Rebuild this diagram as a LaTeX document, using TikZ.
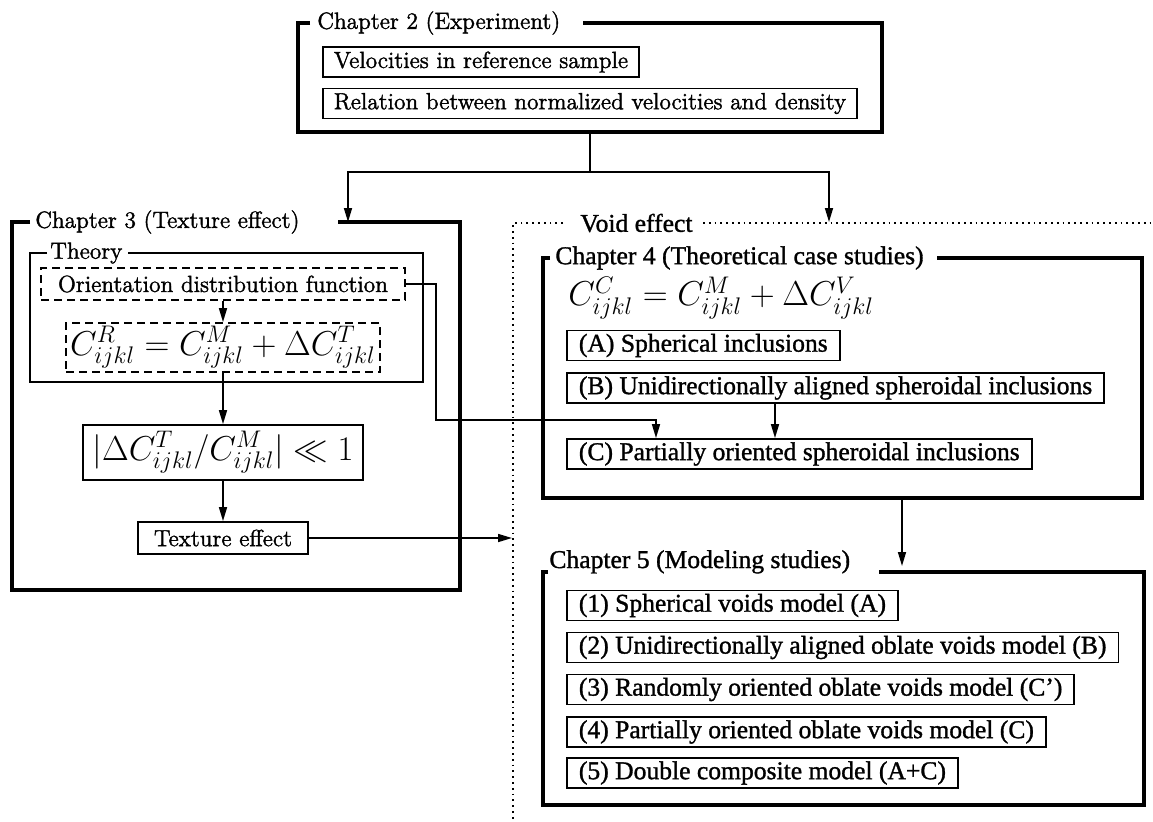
\documentclass[tikz,border=0pt]{standalone}
\usepackage{fontspec}
\newfontfamily\lmheavy{Latin Modern Roman}[FakeBold=1.6]
\newfontfamily\timesfont{Liberation Serif}[FakeBold=1.2]
\usetikzlibrary{arrows.meta,calc}

\tikzset{
  chframe/.style={line width=1.6pt},
  thinframe/.style={line width=0.9pt},
  voidframe/.style={line width=0.9pt, dotted},
  lmfont/.style={font=\lmheavy\fontsize{11.7}{14}\selectfont},
  tmfont/.style={font=\timesfont\fontsize{12.8}{15}\selectfont},
  eqfont/.style={font=\fontsize{16.5}{20}\selectfont},
  lmbox/.style={draw, line width=0.9pt, inner xsep=5.5pt, inner ysep=0pt, minimum height=15pt, anchor=west, lmfont},
  tmbox/.style={draw, line width=0.9pt, inner xsep=6pt, inner ysep=0pt, minimum height=15pt, anchor=west, tmfont},
  ch3box/.style={draw, line width=0.9pt, inner sep=0pt, lmfont},
  dashbox/.style={ch3box, dash pattern=on 4pt off 2.5pt},
  lmtitle/.style={anchor=west, inner sep=0pt, lmfont},
  tmtitle/.style={anchor=west, inner sep=0pt, tmfont},
  link/.style={line width=0.8pt},
  arrow/.style={link, -{Triangle[length=7pt,width=4pt]}},
}

\begin{document}
\begin{tikzpicture}[x=0.5pt,y=-0.5pt]
	%%%%% START %%%%%
	\useasboundingbox (0,0) rectangle (1153,821);
	
	% chapter 2
	\draw[chframe] (310,23) -| (298,132) -| (882,23) -- (583,23);
	\node[lmtitle] (ch2title) at (317,23) {Chapter 2 (Experiment)};
	\node[lmbox] (velo) at (322,62) {Velocities in reference sample};
	\node[lmbox] (relation) at (322,103.5) {Relation between normalized velocities and density};
	
	\coordinate (ch2out) at (590,132);
	\coordinate (split) at (590,172);
	\coordinate (ch3in) at (348,222);
	\coordinate (voidin) at (829,222);
	\draw[link] (ch2out) -- (split);
	\draw[arrow] (split) -| (ch3in);
	\draw[arrow] (split) -| (voidin);
	
	% chapter 3
	\draw[chframe] (30,222) -| (12,590) -| (460,222) -- (338,222);
	\node[lmtitle] (ch3title) at (35,222) {Chapter 3 (Texture effect)};
	\draw[thinframe] (47,253) -| (30,382) -| (423,253) -- (128,253);
	\node[lmtitle] (theory) at (50,253) {Theory};
	
	\node[dashbox, minimum width=182pt, minimum height=16pt] (odf) at (223,284) {Orientation distribution function};
	\node[dashbox, eqfont, minimum width=157pt, minimum height=24.5pt] (crel) at (223,347.5) {$C^R_{ijkl}=C^M_{ijkl}+\Delta C^T_{ijkl}$};
	\node[ch3box, eqfont, minimum width=140pt, minimum height=27.5pt] (small) at (223,452.5) {$|\Delta C^T_{ijkl}/C^M_{ijkl}|\ll 1$};
	\node[ch3box, minimum width=85pt, minimum height=16pt] (texture) at (223,538) {Texture effect};
	\draw[arrow] (odf) -- (crel);
	\draw[arrow] (crel) -- (small);
	\draw[arrow] (small) -- (texture);
	
	% void effect
	\draw[voidframe] (563,223) -- (513,223) -- (513,821);
	\draw[voidframe] (703,223) -- (1153,223);
	\node[tmtitle] (voidtitle) at (580,223) {Void effect};
	\coordinate (voidline) at (512,0);
	\draw[arrow] (texture.east) -- (texture.east -| voidline);
	
	% chapter 4
	\draw[chframe] (550,258) -| (543,498) -| (1142,258) -- (937,258);
	\node[tmtitle] (ch4title) at (555,258) {Chapter 4 (Theoretical case studies)};
	\node[anchor=west, inner sep=0pt, eqfont] (ceq) at (568,298) {$C^C_{ijkl}=C^M_{ijkl}+\Delta C^V_{ijkl}$};
	\node[tmbox] (incA) at (566,345.5) {(A) Spherical inclusions};
	\node[tmbox] (incB) at (566,388) {(B) Unidirectionally aligned spheroidal inclusions};
	\node[tmbox] (incC) at (566,454) {(C) Partially oriented spheroidal inclusions};
	
	\coordinate (bdrop) at ($(incB.south west)+(209,0)$);
	\draw[arrow] (bdrop) -- (bdrop |- incC.north);
	\coordinate (odfdrop) at ($(incC.north west)+(90,0)$);
	\draw[arrow] (odf.east) -- ++(30,0) |- ($(odfdrop)+(0,-18)$) -- (odfdrop);
	
	% chapter 5
	\coordinate (ch4out) at (902,498);
	\coordinate (ch5in) at (902,566);
	\draw[arrow] (ch4out) -- (ch5in);
	\draw[chframe] (548,572) -| (543,805) -| (1144,572) -- (879,572);
	\node[tmtitle, anchor=base west] (ch5title) at (549,568) {Chapter 5 (Modeling studies)};
	\foreach \n/\y/\t in {1/605.5/{(1) Spherical voids model (A)},
	                      2/647.5/{(2) Unidirectionally aligned oblate voids model (B)},
	                      3/689.5/{(3) Randomly oriented oblate voids model (C’)},
	                      4/732/{(4) Partially oriented oblate voids model (C)},
	                      5/773/{(5) Double composite model (A+C)}}
		\node[tmbox] (mod\n) at (566,\y) {\t};
	
	%%%%% END %%%%%
\end{tikzpicture}
\end{document}
